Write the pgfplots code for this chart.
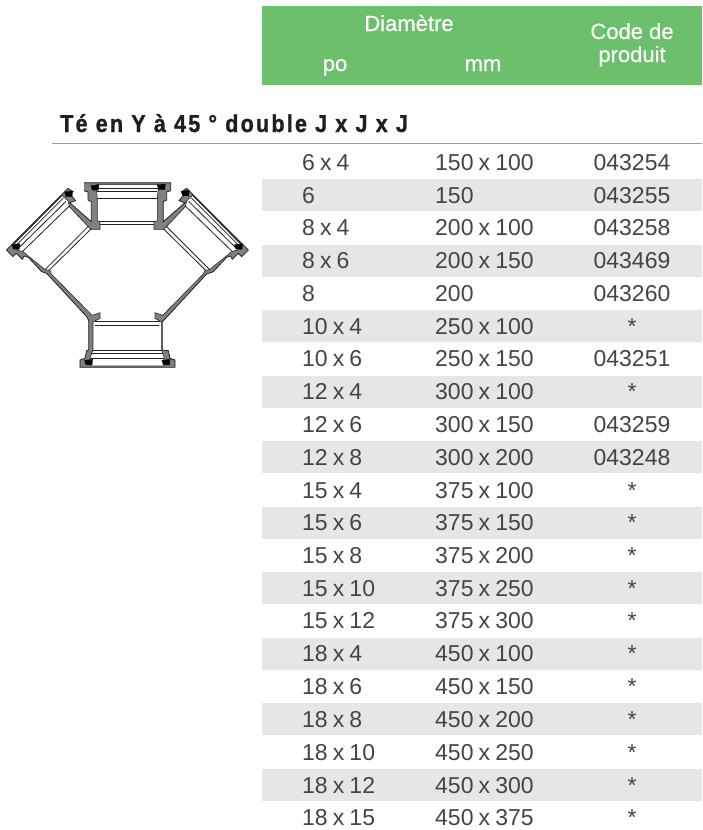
\documentclass[border=0pt]{standalone}
\usepackage{pgfplots}
\pgfplotsset{compat=1.18}
\usepackage{fontspec}
\setmainfont[WordSpace=0.8]{Liberation Sans}
\newfontfamily\headfont[FakeBold=0.35]{Liberation Sans}
\newfontfamily\titlefont[FakeStretch=0.88,LetterSpace=9,FakeBold=1]{Liberation Sans Bold}
\definecolor{hgreen}{HTML}{6DC06B}
\definecolor{band}{HTML}{E6E6E6}
\definecolor{ink}{HTML}{444444}
\definecolor{wall}{HTML}{808080}
\definecolor{dark}{HTML}{222222}
\newcommand{\band}[2]{\addplot [fill=band, draw=none, forget plot] coordinates {(262,#1)(702,#1)(702,#2)(262,#2)};}
\newcommand{\lin}[4]{\addplot [draw=dark, line width=0.8pt, zm] coordinates {(#1,#2)(#3,#4)};}
\newcommand{\gask}[2]{\addplot [draw=black, fill=black, zm, line width=0.3pt] coordinates {(#1-13,#2-6)(#1+12,#2-9)(#1+10,#2+8)(#1-9,#2+7)};}
\pgfplotsset{zm/.style={x filter/.expression={x/3}, y filter/.expression={170+y/3}}}
\begin{document}
\begin{tikzpicture}
\begin{axis}[
  width=702pt, height=830pt, scale only axis,
  xmin=0, xmax=702, ymin=0, ymax=830, y dir=reverse,
  hide axis, clip=false,
  every axis plot/.append style={forget plot},
  tx/.style={only marks, mark=none, nodes near coords, point meta=explicit symbolic,
     nodes near coords style={font=\fontsize{23}{26}\selectfont, text=ink, inner sep=0pt, anchor=#1}},
  tx/.default={base},
]
% page corners
\addplot [draw=none] coordinates {(0,0)(702,830)};
% header
\addplot [fill=hgreen, draw=none] coordinates {(262,6)(702,6)(702,85)(262,85)};
% bands
\band{179}{211}\band{245}{277}\band{310}{342}\band{376}{408}\band{441}{473}
\band{507}{539}\band{572}{604}\band{638}{670}\band{703}{735}\band{769}{801}
% header text
\addplot [only marks, mark=none, nodes near coords, point meta=explicit symbolic,
  nodes near coords style={font=\headfont\fontsize{22}{24}\selectfont, text=white, inner sep=0pt, anchor=base}]
  table [x=x, y=y, meta=t, col sep=comma] {
x,y,t
409,31,Diamètre
335,71,po
483,71,mm
632,39,Code de
632,62,produit
};
% title + rule
\addplot [only marks, mark=none, nodes near coords, point meta=explicit symbolic,
  nodes near coords style={font=\titlefont\fontsize{24.5}{26}\selectfont, text=black!88, inner sep=0pt, anchor=base west}]
  table [x=x, y=y, meta=t, col sep=comma] {
x,y,t
60,132,Té en Y à 45 ° double J x J x J
};
\addplot [fill=hgreen, draw=none] coordinates {(52,143)(702,143)(702,144.3)(52,144.3)};
% columns
\addplot [tx=base west] table [x=x, y=y, meta=t, col sep=comma] {
x,y,t
302,170,6 x 4
302,203,6
302,235,8 x 4
302,268,8 x 6
302,301,8
302,334,10 x 4
302,366,10 x 6
302,399,12 x 4
302,432,12 x 6
302,465,12 x 8
302,498,15 x 4
302,530,15 x 6
302,563,15 x 8
302,596,15 x 10
302,628,15 x 12
302,661,18 x 4
302,694,18 x 6
302,727,18 x 8
302,760,18 x 10
302,793,18 x 12
302,825,18 x 15
};
\addplot [tx=base west] table [x=x, y=y, meta=t, col sep=comma] {
x,y,t
435,170,150 x 100
435,203,150
435,235,200 x 100
435,268,200 x 150
435,301,200
435,334,250 x 100
435,366,250 x 150
435,399,300 x 100
435,432,300 x 150
435,465,300 x 200
435,498,375 x 100
435,530,375 x 150
435,563,375 x 200
435,596,375 x 250
435,628,375 x 300
435,661,450 x 100
435,694,450 x 150
435,727,450 x 200
435,760,450 x 250
435,793,450 x 300
435,825,450 x 375
};
\addplot [tx=base] table [x=x, y=y, meta=t, col sep=comma] {
x,y,t
632,170,043254
632,203,043255
632,235,043258
632,268,043469
632,301,043260
632,334,*
632,366,043251
632,399,*
632,432,043259
632,465,043248
632,498,*
632,530,*
632,563,*
632,596,*
632,628,*
632,661,*
632,694,*
632,727,*
632,760,*
632,793,*
632,825,*
};
% fitting: silhouette
\addplot [fill=wall, draw=dark, line width=0.8pt, zm] coordinates {
(252,38)(512,38)(512,62)(500,66)(500,90)(490,95)(490,155)(555,98)(537,92)(556,70)(545,65)(560,55)
(745,240)(725,260)(715,250)(697,268)(692,258)(680,262)(640,305)(620,312)
(497,445)(487,455)(487,540)(505,542)(510,565)(525,570)(525,592)(240,592)(240,570)(255,565)(260,542)(266,540)
(266,452)(260,440)(140,310)(125,305)(85,262)(72,258)(67,268)(49,250)(39,260)(19,240)
(204,55)(219,65)(208,70)(227,92)(209,98)(274,155)(274,95)(264,90)(264,66)(252,62)
};
% fitting: interior
\addplot [fill=white, draw=dark, line width=0.6pt, zm] coordinates {
(288,44)(476,44)(474,62)(472,90)(472,152)(462,155)(462,178)(492,178)(556,110)(560,92)(578,76)
(726,225)(712,240)(695,245)(630,298)(614,302)(610,312)
(488,436)(465,428)(465,445)(485,456)(485,540)(492,560)(492,588)(272,588)(272,560)(279,540)(279,456)(300,445)(300,428)(276,436)
(154,312)(150,302)(134,298)(69,245)(52,240)(38,225)
(186,76)(204,92)(208,110)(272,178)(300,178)(300,155)(292,152)(292,90)(290,62)
};
% fitting: lines
\lin{300}{153}{462}{153}\lin{300}{162}{462}{162}
\lin{292}{84}{472}{84}\lin{288}{56}{476}{56}\lin{292}{64}{472}{64}
\lin{285}{455}{480}{455}\lin{285}{466}{478}{466}
\lin{279}{540}{485}{540}\lin{274}{550}{490}{550}\lin{272}{566}{492}{566}
\lin{498}{168}{628}{298}\lin{490}{176}{618}{302}
\lin{266}{168}{136}{298}\lin{274}{176}{146}{302}
\lin{556}{108}{696}{244}\lin{566}{94}{708}{234}\lin{574}{84}{716}{226}\lin{580}{78}{722}{222}
\lin{208}{108}{68}{244}\lin{198}{94}{56}{234}\lin{190}{84}{48}{226}\lin{184}{78}{42}{222}
\gask{285}{53}\gask{484}{51}\gask{556}{70}\gask{716}{230}\gask{48}{230}\gask{206}{72}\gask{266}{577}\gask{498}{577}
\end{axis}
\end{tikzpicture}
\end{document}
